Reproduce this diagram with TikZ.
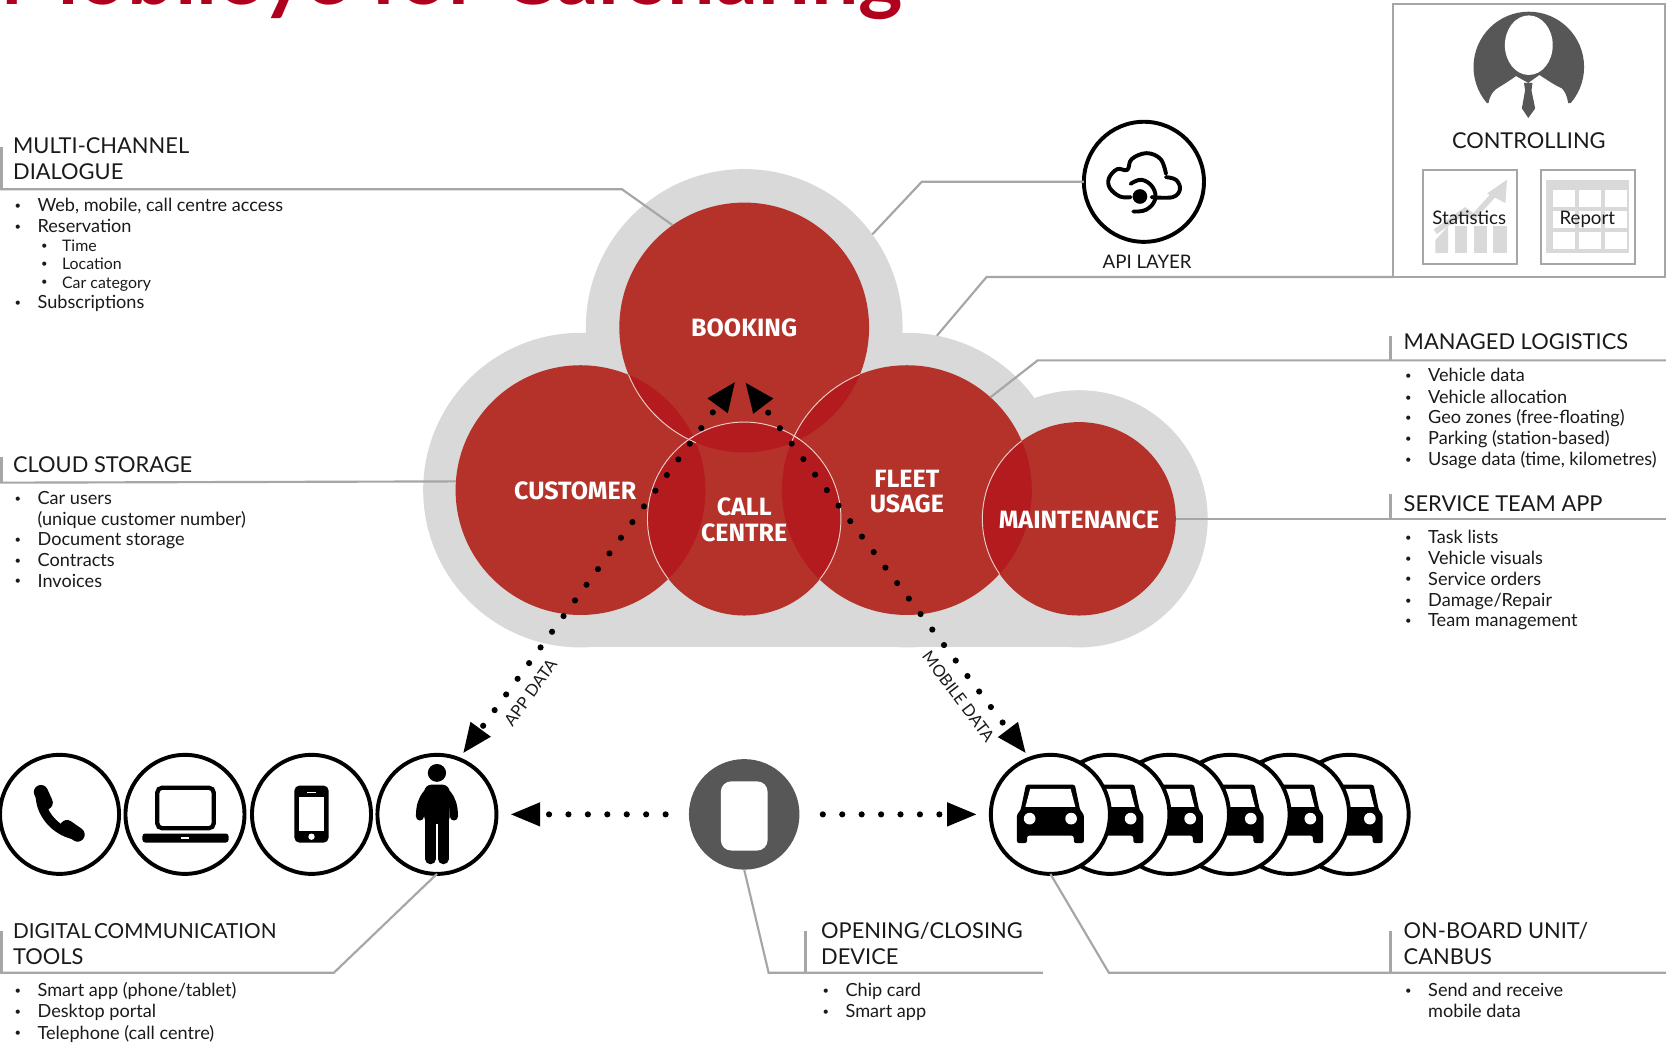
\documentclass[tikz,border=0pt]{standalone}
\usepackage{fontspec}
\setmainfont{Lato}
\newfontfamily\lblfont{Fira Sans}
\usetikzlibrary{arrows.meta}
\definecolor{cloudgrey}{HTML}{D9D9D9}
\definecolor{leadgrey}{HTML}{A6A6A6}
\definecolor{redbase}{HTML}{B5322A}
\definecolor{reddark}{HTML}{B31B1E}
\definecolor{redline}{HTML}{EBCFC8}
\definecolor{darkgrey}{HTML}{575757}
\definecolor{titlered}{HTML}{B0001E}
\definecolor{textc}{HTML}{1A1A1A}
\newcounter{ln}
\tikzset{
 x=0.02cm,y=-0.02cm,
 disc/.style={circle,inner sep=0pt,outer sep=0pt,minimum size=#1*0.04cm},
 cloudc/.style={disc=#1,fill=cloudgrey},
 redc/.style={disc=#1,fill=redbase},
 ring/.style={disc=#1,draw=black,line width=2.1pt,fill=white},
 lead/.style={draw=leadgrey,line width=1.15pt},
 tick/.style={draw=leadgrey,line width=1.6pt},
 rlabel/.style={font=\lblfont\fontsize{13.4}{14}\selectfont\bfseries\color{white},inner sep=0pt},
 head/.style={font=\fontsize{11.7}{14}\selectfont,text=textc,inner sep=0pt,anchor=base west},
 itm/.style={font=\fontsize{9.7}{12}\selectfont,text=textc,inner sep=0pt,anchor=base west},
 sub/.style={font=\fontsize{8.5}{10}\selectfont,text=textc,inner sep=0pt,anchor=base west},
 dotted arrow/.style={line width=3.3pt,line cap=round,dash pattern=on 0pt off 10.4pt,
   black},
}
\newcommand\smallbullet{\hspace{0.8pt}\raisebox{1.2pt}{\fontsize{6}{6}\selectfont •}}
\newcommand\itemline[3]{\stepcounter{ln}\node[itm] (i\theln) at (#1,#2+6.3) {\makebox[13.1pt][l]{\smallbullet}#3};}
\newcommand\subline[3]{\stepcounter{ln}\node[sub] (i\theln) at (#1,#2+5.5) {\makebox[12pt][l]{\smallbullet}#3};}
\newcommand\contline[3]{\stepcounter{ln}\node[itm] (i\theln) at (#1,#2+6.3) {\makebox[13.1pt][l]{}#3};}
\newcommand\headline[3]{\stepcounter{ln}\node[head] (i\theln) at (#1,#2+8.3) {#3};}
\begin{document}
\begin{tikzpicture}
\useasboundingbox (0,0) rectangle (1568,985.8);
\fill[white] (0,0) rectangle (1568,985.8);

% title, cut by the top of the page
\node[font=\fontsize{45.2}{48}\selectfont\bfseries,text=titlered,inner sep=0pt,anchor=base west] (title) at (0,4) {Mobileye for Carsharing};

% cloud
\fill[cloudgrey] (546,320) rectangle (853,609);
\fill[cloudgrey] (853,400) rectangle (1015,609);
\node[cloudc=149] (cloudbook) at (700,308) {};
\node[cloudc=148] (cloudcust) at (546,461) {};
\node[cloudc=148] (cloudfleet) at (853,461) {};
\node[cloudc=121] (cloudmaint) at (1015,488) {};

% red circles
\node[redc=117.5] (customer) at (546,461) {};
\node[redc=117.5] (fleet) at (853,461) {};
\node[redc=117.5] (booking) at (700,308) {};
\node[redc=91] (maint) at (1015,488) {};
\node[redc=91] (call) at (700,488) {};

% overlaps
\begin{scope}\clip (booking) circle[radius=117.5]; \fill[reddark] (customer) circle[radius=117.5]; \fill[reddark] (fleet) circle[radius=117.5]; \fill[reddark] (call) circle[radius=91];\end{scope}
\begin{scope}\clip (call) circle[radius=91]; \fill[reddark] (customer) circle[radius=117.5]; \fill[reddark] (fleet) circle[radius=117.5];\end{scope}
\begin{scope}\clip (maint) circle[radius=91]; \fill[reddark] (fleet) circle[radius=117.5];\end{scope}
% pale edges
\begin{scope}\clip (customer) circle[radius=117.5]; \draw[redline,line width=0.5pt] (booking) circle[radius=117.5]; \draw[redline,line width=0.5pt] (call) circle[radius=91];\end{scope}
\begin{scope}\clip (fleet) circle[radius=117.5]; \draw[redline,line width=0.5pt] (call) circle[radius=91]; \draw[redline,line width=0.5pt] (maint) circle[radius=91];\end{scope}
\begin{scope}\clip (booking) circle[radius=117.5]; \draw[redline,line width=0.5pt] (call) circle[radius=91]; \draw[redline,line width=0.5pt] (fleet) circle[radius=117.5];\end{scope}

\node[rlabel] (tbook) at (700,308.5) {BOOKING};
\node[rlabel] (tcust) at (541,461.5) {CUSTOMER};
\node[rlabel] (tcall1) at (700,477) {CALL};
\node[rlabel] (tcall2) at (700,501) {CENTRE};
\node[rlabel] (tfleet1) at (853,450) {FLEET};
\node[rlabel] (tfleet2) at (853,474) {USAGE};
\node[rlabel] (tmaint) at (1015,488.5) {MAINTENANCE};

% API icon
\node[ring=56.5] (api) at (1076,171) {};
\begin{scope}[shift={(978.2,93.9)},x=0.00627cm,y=-0.00627cm]
\draw[line width=2.1pt,line cap=round,line join=round] plot[smooth,tension=0.65] coordinates {(272,292)(240,290)(210,265)(207,235)(232,208)(262,210)(275,178)(320,160)(362,178)(378,222)};
\draw[line width=2.1pt,line cap=round,line join=round] plot[smooth,tension=0.65] coordinates {(378,232)(408,240)(420,268)(398,292)(335,292)};
\draw[line width=2.1pt,line cap=round] plot[smooth,tension=0.7] coordinates {(272,252)(305,240)(338,262)(345,300)(318,330)(280,335)};
\fill (300,290) circle[radius=22];
\end{scope}
\node[font=\fontsize{10}{12}\selectfont,text=textc,inner sep=0pt] (apilabel) at (1079,246) {API LAYER};

% controlling box
\coordinate (ctlbl) at (1310,260.5);
\coordinate (ctltl) at (1310,4);
\coordinate (ctltr) at (1566,4);
\coordinate (ctlbr) at (1566,260.5);
\draw[lead] (ctltl) -- (ctltr) -- (ctlbr) -- (ctlbl) -- cycle;
\begin{scope}
\clip (1380,0) -- (1500,0) -- (1500,97) -- (1475,97) .. controls (1474,90) and (1472,86) .. (1469,83) .. controls (1462,80) and (1455,75) .. (1448,70.5) -- (1437.5,78) -- (1426,71.5) .. controls (1420,76) and (1413,80) .. (1407,84) .. controls (1403,87) and (1401,92) .. (1400,97) -- (1380,97) -- cycle;
\fill[darkgrey] (1438,63) circle[radius=52];
\end{scope}
\fill[white] (1438,42.5) ellipse[x radius=22.5,y radius=28];
\fill[darkgrey] (1433.5,78) -- (1441.5,78) -- (1440.5,85) -- (1444,102) -- (1437.5,111) -- (1431.5,102) -- (1434.5,85) -- cycle;
\node[font=\fontsize{11.7}{14}\selectfont,text=textc,inner sep=0pt] (ctl) at (1438,132) {CONTROLLING};
\node[draw=leadgrey,line width=1.1pt,minimum size=50.6pt,inner sep=0pt,outer sep=0pt] (statbox) at (1382.5,204) {};
\node[draw=leadgrey,line width=1.1pt,minimum size=50.6pt,inner sep=0pt,outer sep=0pt] (repbox) at (1493.5,204) {};
% statistics icon
\fill[cloudgrey] (1350,226) -- (1362,213) -- (1362,238) -- (1350,238) -- cycle;
\fill[cloudgrey] (1368.7,213) rectangle (1380,238);
\fill[cloudgrey] (1386.5,213) rectangle (1399,238);
\fill[cloudgrey] (1404.6,213) rectangle (1417.5,238);
\draw[cloudgrey,line width=3pt] (1350,218) -- (1378,198) -- (1386,204) -- (1406,182);
\fill[cloudgrey] (1417.5,169) -- (1416,191) -- (1398.8,182) -- cycle;
% report icon
\fill[cloudgrey] (1454,169) rectangle (1532.6,238);
\foreach \cx in {1461,1485.5,1510}{\foreach \cy in {178.5,198,218}{\fill[white] (\cx,\cy) rectangle ++(20.2,16);}}
\node[font=\fontsize{10}{11}\selectfont,text=textc,inner sep=0pt,anchor=base] (stat) at (1382,211) {Statistics};
\node[font=\fontsize{10}{11}\selectfont,text=textc,inner sep=0pt,anchor=base] (rep) at (1493,211) {Report};

% leaders
\coordinate (l1) at (0,178); \coordinate (l1b) at (585,178);
\draw[lead] (l1) -- (l1b) -- (booking.125.6);
\coordinate (l2) at (0,454);
\draw[lead] (l2) -- (customer.176.6);
\coordinate (l3) at (867,171);
\draw[lead] (api.west) -- (l3) -- (cloudbook.36.9);
\coordinate (l4) at (928,260.5);
\draw[lead] (ctlbl) -- (l4) -- (cloudfleet.79.6);
\coordinate (l5a) at (1567,339); \coordinate (l5b) at (976,339);
\draw[lead] (l5a) -- (l5b) -- (fleet.48.4);
\coordinate (l6) at (1567,488);
\draw[lead] (maint.east) -- (l6);
% heading ticks
\coordinate (t1a) at (1,138); \coordinate (t1b) at (1,178); \draw[tick] (t1a) -- (t1b);
\coordinate (t2a) at (1,430); \coordinate (t2b) at (1,454); \draw[tick] (t2a) -- (t2b);
\coordinate (t3a) at (1308,316); \coordinate (t3b) at (1308,339); \draw[tick] (t3a) -- (t3b);
\coordinate (t4a) at (1308,465); \coordinate (t4b) at (1308,488); \draw[tick] (t4a) -- (t4b);
\coordinate (t5a) at (1,876); \coordinate (t5b) at (1,915); \draw[tick] (t5a) -- (t5b);
\coordinate (t6a) at (758,876); \coordinate (t6b) at (758,915); \draw[tick] (t6a) -- (t6b);
\coordinate (t7a) at (1308,876); \coordinate (t7b) at (1308,915); \draw[tick] (t7a) -- (t7b);

% cars, back to front
\foreach \cx in {1269,1213,1157,1100,1044,988}{
  \node[ring=56] (car\cx) at (\cx,766) {};
  \begin{scope}[shift={(\cx,766)}]
  \fill[black,rounded corners=1.2pt] (-23,-28) -- (23,-28) -- (28,-4) -- (31.5,0) -- (31.5,27) -- (22,27) -- (22,20) -- (-22,20) -- (-22,27) -- (-31.5,27) -- (-31.5,0) -- (-28,-4) -- cycle;
  \fill[white] (-19,-24) -- (19,-24) -- (23.5,-7) -- (-23.5,-7) -- cycle;
  \fill[white] (-19.5,4) circle[radius=5.5];
  \fill[white] (19.5,4) circle[radius=5.5];
  \end{scope}
}
% phone group
\node[ring=56] (phone) at (56,766) {};
\draw[line width=5pt,line cap=round] (38,750) .. controls (39,766) and (52,781) .. (69,785);
\draw[line width=7.6pt,line cap=round] (38.5,745) -- (43,755);
\draw[line width=7.6pt,line cap=round] (63,778) -- (73,785);
\node[ring=56] (laptop) at (174,766) {};
\draw[line width=2.3pt,rounded corners=2.5pt] (148,741) rectangle (201,779);
\fill[rounded corners=1.5pt] (134,784) rectangle (215,792.5);
\fill[white] (170,787.5) rectangle (178,789);
\node[ring=56] (mobile) at (293,766) {};
\fill[rounded corners=2.5pt] (277,739) rectangle (309,792.5);
\fill[white] (281,749.5) rectangle (305,781.5);
\fill[white] (293,787) circle[radius=3];
\fill[white] (289,744.5) rectangle (297,746);
\node[ring=56] (person) at (411,766) {};
\fill (411,727) ellipse[x radius=8.6,y radius=8.4];
\fill[rounded corners=4pt] (399,738) rectangle (423,775);
\draw[line width=4.3pt,line cap=round] (402,746) .. controls (397,752) and (395,758) .. (395,768);
\draw[line width=4.3pt,line cap=round] (420,746) .. controls (425,752) and (427,758) .. (427,768);
\draw[line width=5.6pt,line cap=round] (405,770) -- (405,808);
\draw[line width=5.6pt,line cap=round] (417,770) -- (417,808);
\draw[white,line width=0.6pt] (411,785) -- (411,812);
% device
\node[disc=52,fill=darkgrey] (device) at (700,766) {};
\node[draw=none,fill=white,rounded corners=5.5pt,minimum width=25pt,minimum height=37pt,inner sep=0pt] (devscreen) at (700,767.5) {};

\draw[lead] (person.270) -- (314,915) -- (0,915);
\draw[lead] (device.270) -- (723,915) -- (981,915);
\draw[lead] (car988.270) -- (1043,915) -- (1567,915);

% dotted arrows
\coordinate (appup) at (691.6,359);
\coordinate (appdown) at (435.5,708.6);
\coordinate (mobup) at (701,359.6);
\coordinate (mobdown) at (965,708.6);
\draw[dotted arrow,dash phase=5.2pt,{Triangle[length=16pt,width=12.5pt]}-{Triangle[length=16pt,width=12.5pt]}] (appup) -- (appdown);
\draw[dotted arrow,dash phase=5.2pt,{Triangle[length=16pt,width=12.5pt]}-{Triangle[length=16pt,width=12.5pt]}] (mobup) -- (mobdown);
\draw[dotted arrow,shorten <=12.5pt,shorten >=7.4pt,-{Triangle[length=16pt,width=12pt]}] (device.west) -- (person.east);
\draw[dotted arrow,shorten <=12.5pt,shorten >=7.4pt,-{Triangle[length=16pt,width=12pt]}] (device.east) -- (car988.west);
\node[font=\fontsize{8.8}{10}\selectfont,text=textc,inner sep=0pt,rotate=54] (appl) at (499,651.5) {APP DATA};
\node[font=\fontsize{8.8}{10}\selectfont,text=textc,inner sep=0pt,rotate=-53] (mobl) at (901.5,655) {MOBILE DATA};

% text
\headline{12}{136}{MULTI-CHANNEL}
\headline{12}{161}{DIALOGUE}
\itemline{12}{193}{Web, mobile, call centre access}
\itemline{12}{212.5}{Reservation}
\subline{37}{231}{Time}
\subline{37}{248}{Location}
\subline{37}{265.5}{Car category}
\itemline{12}{284}{Subscriptions}
\headline{12}{436}{CLOUD STORAGE}
\itemline{12}{468}{Car users}
\contline{12}{488}{(unique customer number)}
\itemline{12}{507}{Document storage}
\itemline{12}{527}{Contracts}
\itemline{12}{546}{Invoices}
\headline{1320}{320}{MANAGED LOGISTICS}
\itemline{1320}{353}{Vehicle data}
\itemline{1320}{373}{Vehicle allocation}
\itemline{1320}{392.5}{Geo zones (free-floating)}
\itemline{1320}{412}{Parking (station-based)}
\itemline{1320}{431.5}{Usage data (time, kilometres)}
\headline{1320}{473}{SERVICE TEAM APP}
\itemline{1320}{505}{Task lists}
\itemline{1320}{525}{Vehicle visuals}
\itemline{1320}{544}{Service orders}
\itemline{1320}{564}{Damage/Repair}
\itemline{1320}{583}{Team management}
\node[head,font=\fontsize{11.1}{14}\selectfont] (digital) at (12,882.3) {DIGITAL\hspace{1.6pt}COMMUNICATION};
\headline{12}{899}{TOOLS}
\itemline{12}{931}{Smart app (phone/tablet)}
\itemline{12}{951}{Desktop portal}
\itemline{12}{971}{Telephone (call centre)}
\headline{772}{874}{OPENING/CLOSING}
\headline{772}{899}{DEVICE}
\itemline{772}{931}{Chip card}
\itemline{772}{951}{Smart app}
\headline{1320}{874}{ON-BOARD UNIT/}
\headline{1320}{899}{CANBUS}
\itemline{1320}{931}{Send and receive}
\contline{1320}{951}{mobile data}
\end{tikzpicture}
\end{document}
